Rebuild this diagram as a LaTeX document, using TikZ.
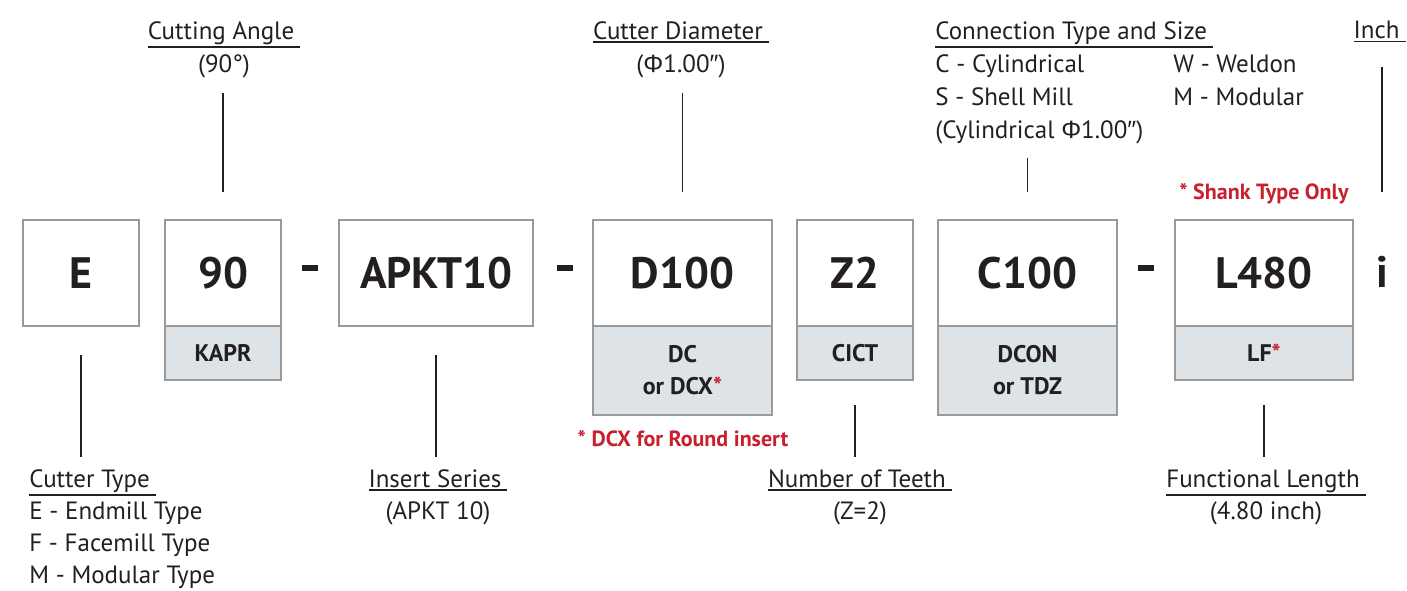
\documentclass[tikz,border=0pt]{standalone}
\usepackage{fontspec}
\setmainfont{PT Sans}
\newfontfamily\symfont{Liberation Sans}
\usetikzlibrary{positioning}

\definecolor{codegray}{HTML}{DDE3E6}
\definecolor{edgegray}{HTML}{9A9A9A}
\definecolor{notered}{HTML}{C8202F}
\definecolor{inkblack}{HTML}{231F20}

\newcommand{\ulabel}[1]{\vtop{\hbox{#1\kern3pt}\kern0.8pt\hrule height 0.8pt}}
\newcommand{\phichar}{{\symfont Φ}}
\newcommand{\dprime}{{\symfont ″}}

\begin{document}
\begin{tikzpicture}[x=0.5pt, y=-0.5pt,
    codebox/.style={rectangle, draw=edgegray, line width=1pt, fill=white, minimum height=53pt, inner sep=0pt, outer sep=0pt, text=inkblack, font=\fontsize{22}{22}\selectfont\bfseries},
    infobox/.style={rectangle, draw=edgegray, line width=1pt, fill=codegray, inner sep=0pt, outer sep=0pt, align=center, text=inkblack, font=\fontsize{12}{16}\selectfont\bfseries},
    joiner/.style={inner sep=0pt, fill=inkblack, minimum width=8pt, minimum height=2.6pt},
    unitmark/.style={inner sep=0pt, text=inkblack, font=\fontsize{22}{22}\selectfont\bfseries},
    caption/.style={inner sep=0pt, text=inkblack, font=\fontsize{12.5}{16.5}\selectfont},
    lowcaption/.style={caption, font=\fontsize{12.5}{16}\selectfont},
    note/.style={inner sep=0pt, text=notered, font=\fontsize{11}{11}\selectfont\bfseries},
    leader/.style={draw=inkblack, line width=0.6pt}
]
\useasboundingbox (0,0) rectangle (1407,590);

% code boxes
\node[codebox, minimum width=58pt] (cut) at (81,273) {E};
\node[codebox, minimum width=58pt] (ang) at (223,273) {90};
\node[infobox, minimum width=58pt, minimum height=27pt, below=0pt of ang] (kapr) {KAPR};
\node[codebox, minimum width=97pt] (ins) at (436,273) {APKT10};
\node[codebox, minimum width=89.5pt] (dia) at (682.5,273) {D100};
\node[infobox, minimum width=89.5pt, minimum height=44.5pt, below=0pt of dia] (dc) {DC\\or DCX{\color{notered}*}};
\node[codebox, minimum width=58pt] (tee) at (855,273) {Z2};
\node[infobox, minimum width=58pt, minimum height=27pt, below=0pt of tee] (cict) {CICT};
\node[codebox, minimum width=89.5pt] (con) at (1027.5,273) {C100};
\node[infobox, minimum width=89.5pt, minimum height=44.5pt, below=0pt of con] (dcon) {DCON\\or TDZ};
\node[codebox, minimum width=89pt] (len) at (1264,273) {L480};
\node[infobox, minimum width=89pt, minimum height=27pt, below=0pt of len] (lf) {LF{\color{notered}*}};

% separators and unit
\node[joiner] (sep1) at (310,268) {};
\node[joiner] (sep2) at (565,268) {};
\node[joiner] (sep3) at (1146,268) {};
\node[unitmark] (unit) at (1382,272) {i};

% captions above
\node[caption, anchor=north, align=center] (angtxt) at (224,21) {\ulabel{Cutting Angle}\\(90°)};
\node[caption, anchor=north, align=center] (diatxt) at (681,21) {\ulabel{Cutter Diameter}\\(\phichar1.00\dprime)};
\node[caption, anchor=north west, align=left] (contxt) at (935,21) {\ulabel{Connection Type and Size}\\C - Cylindrical\\S - Shell Mill\\(Cylindrical \phichar1.00\dprime)};
\node[caption, anchor=north west, align=left] (contxt2) at (1173,55) {W - Weldon\\M - Modular};
\node[caption, anchor=north east] (inch) at (1406,21) {\ulabel{Inch}};
\node[note] (shank) at (1264,194) {* Shank Type Only};

% captions below
\node[lowcaption, anchor=north west, align=left] (cuttxt) at (29,469) {\ulabel{Cutter Type}\\E - Endmill Type\\F - Facemill Type\\M - Modular Type};
\node[lowcaption, anchor=north, align=center] (instxt) at (438,469) {\ulabel{Insert Series}\\(APKT 10)};
\node[note] (dcx) at (683,439) {* DCX for Round insert};
\node[lowcaption, anchor=north, align=center] (teetxt) at (860,469) {\ulabel{Number of Teeth}\\(Z=2)};
\node[lowcaption, anchor=north, align=center] (lentxt) at (1266,469) {\ulabel{Functional Length}\\(4.80 inch)};

% leader lines
\draw[leader, shorten <=14pt, shorten >=7.5pt] (ang.north) -- (ang.north |- angtxt.south);
\draw[leader, shorten <=14pt, shorten >=7.5pt] (dia.north) -- (dia.north |- diatxt.south);
\draw[leader, shorten <=14pt, shorten >=7pt] (con.north) -- (con.north |- contxt.south);
\draw[leader, shorten <=14pt, shorten >=12pt] (unit |- len.north) -- (unit |- inch.south);
\draw[leader, shorten <=14.5pt, shorten >=6pt] (cut.south) -- (cut.south |- cuttxt.north);
\draw[leader, shorten <=14.5pt, shorten >=6pt] (ins.south) -- (ins.south |- instxt.north);
\draw[leader, shorten <=12.5pt, shorten >=6pt] (cict.south) -- (cict.south |- teetxt.north);
\draw[leader, shorten <=12.5pt, shorten >=6pt] (lf.south) -- (lf.south |- lentxt.north);

\end{tikzpicture}
\end{document}
